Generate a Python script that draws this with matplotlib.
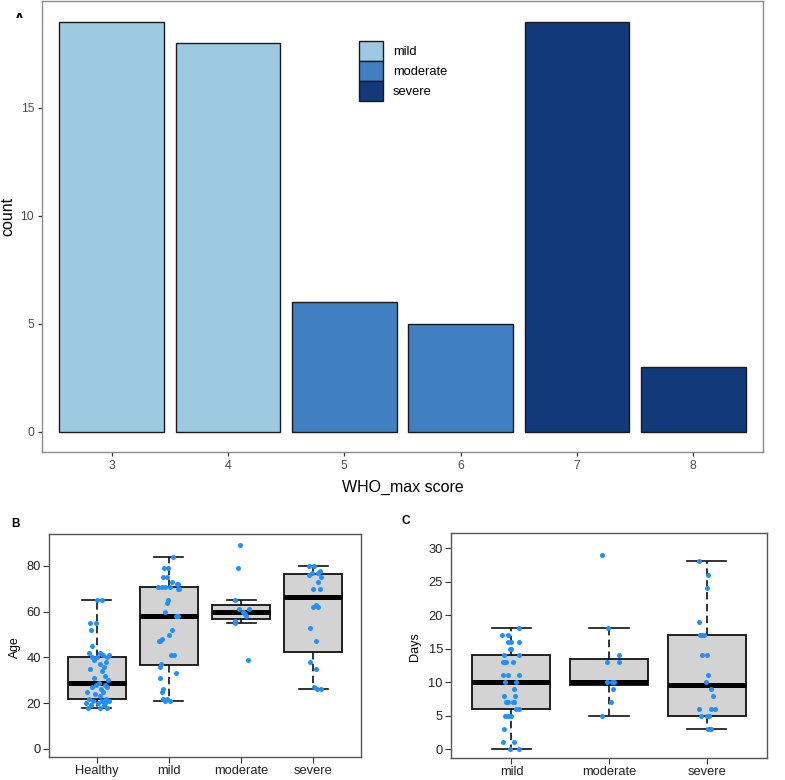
import math
import matplotlib
matplotlib.use("Agg")
import matplotlib.pyplot as plt
from matplotlib.patches import Patch, Rectangle

plt.rcParams['font.family'] = ['Liberation Sans', 'DejaVu Sans']

# ---------------- Panel A data ----------------
who_scores = [3, 4, 5, 6, 7, 8]
who_counts = [19, 18, 6, 5, 19, 3]
who_severity = ['mild', 'mild', 'moderate', 'moderate', 'severe', 'severe']
severity_levels = ['mild', 'moderate', 'severe']
severity_colors = ['#9ECAE1', '#3F7FC2', '#12397A']

# ---------------- Panel B data (Age) ----------------
age_groups = ['Healthy', 'mild', 'moderate', 'severe']
age_healthy = [18, 18, 18, 19, 19, 20, 20, 20, 21, 21, 21, 22, 22, 23, 24, 25, 25, 26, 27, 27,
               28, 28, 29, 30, 31, 32, 34, 35, 36, 37, 38, 39, 40, 40, 40, 41, 41, 42, 42, 45,
               52, 55, 55, 65, 65]
age_healthy_jit = [-0.12, 0.05, 0.15, -0.08, 0.10, -0.15, 0.02, 0.12, -0.05, 0.08, 0.17, -0.10,
                   0.13, 0.04, -0.02, 0.09, -0.13, 0.06, 0.14, -0.07, 0.11, -0.01, 0.03, 0.16,
                   -0.04, 0.12, 0.07, -0.09, 0.10, 0.04, 0.13, -0.03, 0.01, 0.15, -0.06, 0.09,
                   0.17, -0.11, 0.05, -0.06, -0.08, -0.09, -0.01, 0.01, 0.07]
age_mild = [21, 21, 22, 22, 25, 26, 31, 33, 36, 37, 41, 41, 47, 47, 48, 50, 52, 58, 58, 60,
            64, 65, 70, 70, 71, 71, 71, 71, 72, 72, 73, 75, 75, 79, 79, 84]
age_mild_jit = [-0.06, 0.02, -0.08, -0.03, -0.10, -0.08, -0.12, 0.10, -0.13, -0.11, 0.03, 0.07,
                -0.14, -0.12, -0.09, 0.00, 0.04, 0.10, 0.12, -0.05, -0.03, -0.01, 0.12, 0.14,
                -0.15, -0.10, -0.05, 0.02, 0.11, 0.13, 0.05, -0.08, -0.03, -0.07, -0.01, 0.06]
age_moderate = [39, 55, 56, 58, 59, 60, 61, 61, 65, 79, 89]
age_moderate_jit = [0.10, -0.09, -0.08, 0.07, 0.05, 0.02, 0.11, -0.03, -0.09, -0.05, -0.02]
age_severe = [26, 26, 27, 35, 38, 47, 53, 62, 62, 63, 70, 70, 73, 75, 76, 77, 77, 78, 80, 80]
age_severe_jit = [0.05, 0.11, 0.01, 0.04, -0.05, 0.04, -0.04, 0.00, 0.07, 0.03, -0.01, 0.09,
                  0.06, 0.10, -0.06, -0.02, 0.06, 0.09, -0.06, 0.01]

# ---------------- Panel C data (Days) ----------------
days_groups = ['mild', 'moderate', 'severe']
days_mild = [0, 0, 1, 1, 3, 5, 5, 5, 6, 6, 7, 7, 7, 7, 8, 8, 9, 10, 10, 11, 11, 11, 13, 13, 13,
             13, 14, 14, 15, 15, 16, 16, 16, 17, 17, 18]
days_mild_jit = [-0.02, 0.08, -0.09, 0.03, -0.08, -0.07, -0.04, 0.00, 0.05, 0.08, -0.06, -0.04,
                 0.02, 0.03, -0.08, 0.04, 0.03, -0.07, 0.05, -0.09, -0.04, 0.08, -0.09, -0.06,
                 0.02, -0.08, -0.08, 0.08, -0.02, 0.00, -0.04, 0.00, 0.08, -0.10, -0.04, 0.08]
days_moderate = [5, 7, 9, 10, 10, 10, 13, 13, 14, 18, 29]
days_moderate_jit = [-0.07, 0.02, 0.04, -0.02, 0.05, 0.03, -0.02, 0.10, 0.10, -0.01, -0.07]
days_severe = [3, 3, 3, 5, 5, 5, 6, 6, 6, 8, 9, 10, 11, 14, 14, 17, 17, 17, 19, 24, 26, 28]
days_severe_jit = [0.02, 0.04, 0.05, -0.06, 0.00, 0.03, -0.08, 0.05, 0.09, 0.07, 0.05, -0.01,
                   0.02, -0.045, 0.00, -0.07, -0.05, -0.03, -0.08, 0.00, 0.02, -0.08]

W, H = 785, 780


def fx(px):
    return px / W


def fy(py):
    return 1 - py / H


def r_boxstats(vals, coef=1.5):
    x = sorted(vals)
    n = len(x)
    n4 = math.floor((n + 3) / 2) / 2
    d = [1, n4, (n + 1) / 2, n + 1 - n4, n]
    f = [0.5 * (x[math.floor(di - 1)] + x[math.ceil(di - 1)]) for di in d]
    iqr = f[3] - f[1]
    lo = min(v for v in x if v >= f[1] - coef * iqr)
    hi = max(v for v in x if v <= f[3] + coef * iqr)
    return dict(med=f[2], q1=f[1], q3=f[3], whislo=lo, whishi=hi, fliers=[])


fig = plt.figure(figsize=(7.85, 7.8), dpi=100)

# ================= Panel A =================
axA = fig.add_axes([fx(42), fy(452), fx(763) - fx(42), fy(1) - fy(452)])
col_map = dict(zip(severity_levels, severity_colors))
axA.bar(who_scores, who_counts, width=0.9,
        color=[col_map[s] for s in who_severity],
        edgecolor='#1a1a1a', linewidth=1.0, zorder=2)
axA.set_xlim(2.4, 8.6)
axA.set_ylim(-0.95, 19.95)
axA.set_xticks(who_scores)
axA.set_xticklabels([str(s) for s in who_scores])
axA.set_yticks([0, 5, 10, 15])
for sp in axA.spines.values():
    sp.set_color('#8c8c8c')
    sp.set_linewidth(1.0)
axA.tick_params(axis='both', length=2.6, width=0.9, color='#333333',
                labelsize=8.8, labelcolor='#4D4D4D', pad=3)
handles = [Patch(facecolor=c, edgecolor='#1a1a1a', linewidth=1.0) for c in severity_colors]
axA.legend(handles, severity_levels, loc='upper left',
           bbox_to_anchor=(fx(359), fy(41)), bbox_transform=fig.transFigure,
           frameon=False, borderpad=0, borderaxespad=0, labelspacing=0,
           handlelength=1.86, handleheight=2.0, handletextpad=0.75, fontsize=9.3)
fig.text(fx(8), fy(216), 'count', rotation=90, ha='center', va='center', fontsize=11.5)
fig.text(fx(403), fy(487), 'WHO_max score', ha='center', va='center', fontsize=11.5)
# panel tag "A" (only its top part is visible in the reference)
fig.text(fx(19.5), fy(22.7), 'A', ha='center', va='baseline', fontsize=11, fontweight='bold',
         zorder=5)
fig.add_artist(Rectangle((fx(8), fy(30)), fx(24), fy(18.3) - fy(30),
                         transform=fig.transFigure, facecolor='white', edgecolor='none',
                         zorder=6))


def box_panel(ax, groups, data, jits, ylim, yticks, xlim):
    stats = [r_boxstats(v) for v in data]
    pos = list(range(1, len(groups) + 1))
    ax.bxp(stats, positions=pos, widths=0.8, showfliers=False, patch_artist=True,
           capwidths=0.4,
           boxprops=dict(facecolor='#D3D3D3', edgecolor='#111111', linewidth=1.3),
           medianprops=dict(color='black', linewidth=3.6, solid_capstyle='butt'),
           whiskerprops=dict(color='#111111', linewidth=1.2, linestyle=(0, (4.5, 2.6))),
           capprops=dict(color='#111111', linewidth=1.2))
    for p, vals, jit in zip(pos, data, jits):
        ax.scatter([p + j for j in jit], vals, s=13, color='#1E90FF', linewidths=0, zorder=4)
    ax.set_xlim(*xlim)
    ax.set_ylim(*ylim)
    ax.set_yticks(yticks)
    ax.set_xticks(pos)
    ax.set_xticklabels(groups)
    for sp in ax.spines.values():
        sp.set_color('#555555')
        sp.set_linewidth(1.0)
    ax.tick_params(axis='both', length=4.3, width=0.8, color='#333333',
                   labelsize=9.3, labelcolor='#222222', pad=1.5)


# ================= Panel B =================
axB = fig.add_axes([fx(49), fy(757), fx(361) - fx(49), fy(534) - fy(757)])
box_panel(axB, age_groups, [age_healthy, age_mild, age_moderate, age_severe],
          [age_healthy_jit, age_mild_jit, age_moderate_jit, age_severe_jit],
          (-3.6, 94.0), [0, 20, 40, 60, 80], (0.34, 4.66))
fig.text(fx(15), fy(647), 'Age', rotation=90, ha='center', va='center', fontsize=8.8)
fig.text(fx(16), fy(524), 'B', ha='center', va='center', fontsize=8.5, fontweight='bold')

# ================= Panel C =================
axC = fig.add_axes([fx(451), fy(757.5), fx(767) - fx(451), fy(533) - fy(757.5)])
box_panel(axC, days_groups, [days_mild, days_moderate, days_severe],
          [days_mild_jit, days_moderate_jit, days_severe_jit],
          (-1.24, 32.24), [0, 5, 10, 15, 20, 25, 30], (0.38, 3.62))
fig.text(fx(415), fy(647), 'Days', rotation=90, ha='center', va='center', fontsize=9.2)
fig.text(fx(406), fy(520.5), 'C', ha='center', va='center', fontsize=8.5, fontweight='bold')

fig.savefig('out.png', dpi=100)
